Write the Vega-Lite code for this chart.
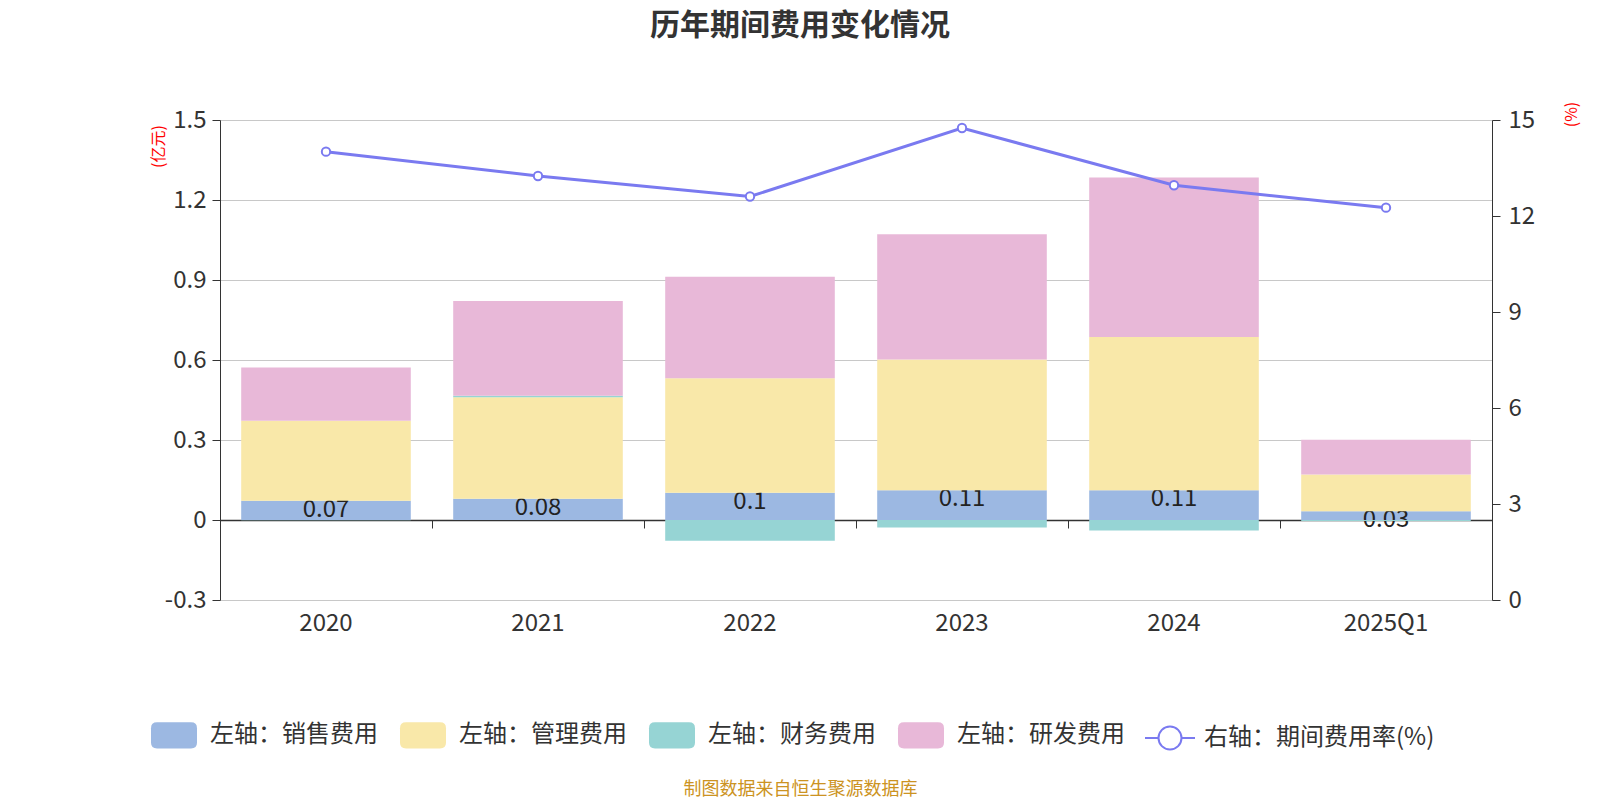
{
  "$schema": "https://vega.github.io/schema/vega-lite/v6.json",
  "autosize": "none",
  "width": 1272,
  "height": 480,
  "padding": {"left": 220, "top": 120, "right": 108, "bottom": 200},
  "background": "#ffffff",
  "config": {
    "font": "Noto Sans CJK SC",
    "view": {"stroke": null},
    "axis": {"labelFontSize": 24, "labelColor": "#333333", "domainColor": "#333333", "tickColor": "#333333", "tickSize": 8, "titleFontWeight": "normal"},
    "legend": {"labelFontSize": 24, "labelColor": "#333333", "labelOffset": 13, "labelLimit": 400, "columnPadding": 22, "direction": "horizontal", "orient": "none", "title": null}
  },
  "title": {
    "text": "历年期间费用变化情况",
    "fontSize": 30,
    "fontWeight": "bold",
    "color": "#333333",
    "anchor": "middle",
    "dx": -56,
    "offset": 60
  },
  "datasets": {
    "costs": [
      {"year": "2020", "type": "左轴：销售费用", "ord": 1, "value": 0.072},
      {"year": "2020", "type": "左轴：管理费用", "ord": 2, "value": 0.30},
      {"year": "2020", "type": "左轴：财务费用", "ord": 3, "value": -0.001},
      {"year": "2020", "type": "左轴：研发费用", "ord": 4, "value": 0.20},
      {"year": "2021", "type": "左轴：销售费用", "ord": 1, "value": 0.08},
      {"year": "2021", "type": "左轴：管理费用", "ord": 2, "value": 0.38},
      {"year": "2021", "type": "左轴：财务费用", "ord": 3, "value": 0.006},
      {"year": "2021", "type": "左轴：研发费用", "ord": 4, "value": 0.355},
      {"year": "2022", "type": "左轴：销售费用", "ord": 1, "value": 0.102},
      {"year": "2022", "type": "左轴：管理费用", "ord": 2, "value": 0.43},
      {"year": "2022", "type": "左轴：财务费用", "ord": 3, "value": -0.078},
      {"year": "2022", "type": "左轴：研发费用", "ord": 4, "value": 0.38},
      {"year": "2023", "type": "左轴：销售费用", "ord": 1, "value": 0.112},
      {"year": "2023", "type": "左轴：管理费用", "ord": 2, "value": 0.49},
      {"year": "2023", "type": "左轴：财务费用", "ord": 3, "value": -0.028},
      {"year": "2023", "type": "左轴：研发费用", "ord": 4, "value": 0.47},
      {"year": "2024", "type": "左轴：销售费用", "ord": 1, "value": 0.112},
      {"year": "2024", "type": "左轴：管理费用", "ord": 2, "value": 0.574},
      {"year": "2024", "type": "左轴：财务费用", "ord": 3, "value": -0.039},
      {"year": "2024", "type": "左轴：研发费用", "ord": 4, "value": 0.598},
      {"year": "2025Q1", "type": "左轴：销售费用", "ord": 1, "value": 0.033},
      {"year": "2025Q1", "type": "左轴：管理费用", "ord": 2, "value": 0.138},
      {"year": "2025Q1", "type": "左轴：财务费用", "ord": 3, "value": -0.004},
      {"year": "2025Q1", "type": "左轴：研发费用", "ord": 4, "value": 0.13}
    ],
    "rate": [
      {"year": "2020", "rate": 14.01},
      {"year": "2021", "rate": 13.25},
      {"year": "2022", "rate": 12.61},
      {"year": "2023", "rate": 14.75},
      {"year": "2024", "rate": 12.96},
      {"year": "2025Q1", "rate": 12.26}
    ]
  },
  "layer": [
    {
      "data": {"name": "costs"},
      "transform": [
        {"stack": "value", "groupby": ["year"], "sort": [{"field": "ord", "order": "ascending"}], "as": ["v0", "v1"]}
      ],
      "encoding": {
        "x": {
          "field": "year",
          "type": "nominal",
          "sort": null,
          "scale": {"paddingInner": 0, "paddingOuter": 0},
          "axis": {
            "domain": false,
            "ticks": false,
            "grid": false,
            "labelAngle": 0,
            "labelPadding": 11,
            "title": "制图数据来自恒生聚源数据库",
            "titleColor": "#cc9322",
            "titleFontSize": 18,
            "titleX": 580,
            "titleY": 189,
            "titleAlign": "center",
            "titleBaseline": "middle"
          }
        },
        "y": {
          "field": "v1",
          "type": "quantitative",
          "scale": {"domain": [-0.3, 1.5], "nice": false, "zero": false},
          "axis": {
            "values": [-0.3, 0, 0.3, 0.6, 0.9, 1.2, 1.5],
            "format": "~g",
            "labelExpr": "replace(datum.label, '−', '-')",
            "grid": true,
            "gridColor": "#c8c8c8",
            "labelPadding": 6,
            "title": "(亿元)",
            "titleColor": "#ff0000",
            "titleFontSize": 16,
            "titleAngle": -90,
            "titleX": -62,
            "titleY": 26,
            "titleAlign": "center",
            "titleBaseline": "middle"
          }
        },
        "color": {
          "field": "type",
          "type": "nominal",
          "scale": {
            "domain": ["左轴：销售费用", "左轴：管理费用", "左轴：财务费用", "左轴：研发费用"],
            "range": ["#9cb8e2", "#f9e8a9", "#96d4d4", "#e8b8d8"]
          },
          "legend": {
            "legendX": -69,
            "legendY": 592,
            "symbolType": "M-0.74,-0.57L0.74,-0.57Q1,-0.57,1,-0.31L1,0.31Q1,0.57,0.74,0.57L-0.74,0.57Q-1,0.57,-1,0.31L-1,-0.31Q-1,-0.57,-0.74,-0.57Z",
            "symbolSize": 2116,
            "symbolStrokeWidth": 0
          }
        }
      },
      "layer": [
        {
          "transform": [{"filter": "datum.type === '左轴：销售费用'"}],
          "mark": {"type": "bar", "width": {"band": 0.8}},
          "encoding": {"y2": {"field": "v0"}}
        },
        {
          "transform": [{"filter": "datum.type === '左轴：销售费用'"}],
          "mark": {"type": "text", "fontSize": 24, "baseline": "middle", "dy": 9},
          "encoding": {
            "text": {"field": "value", "type": "quantitative", "format": ".2~f"},
            "color": {"value": "#222222"}
          }
        },
        {
          "transform": [{"filter": "datum.type !== '左轴：销售费用'"}],
          "mark": {"type": "bar", "width": {"band": 0.8}},
          "encoding": {"y2": {"field": "v0"}}
        }
      ]
    },
    {
      "data": {"name": "rate"},
      "encoding": {
        "x": {
          "field": "year",
          "type": "nominal",
          "sort": null,
          "scale": {"paddingInner": 0, "paddingOuter": 0},
          "axis": {
            "orient": "bottom",
            "offset": -80,
            "labels": false,
            "grid": false,
            "domainWidth": 1.5,
            "bandPosition": 0,
            "title": null
          }
        },
        "y": {
          "field": "rate",
          "type": "quantitative",
          "scale": {"domain": [0, 15], "nice": false},
          "axis": {
            "orient": "right",
            "values": [0, 3, 6, 9, 12, 15],
            "grid": false,
            "labelPadding": 8,
            "title": "(%)",
            "titleColor": "#ff0000",
            "titleFontSize": 16,
            "titleAngle": -90,
            "titleX": 79,
            "titleY": -6,
            "titleAlign": "center",
            "titleBaseline": "middle"
          }
        }
      },
      "layer": [
        {
          "mark": {"type": "line", "strokeWidth": 3},
          "encoding": {
            "stroke": {
              "datum": "右轴：期间费用率(%)",
              "type": "nominal",
              "scale": {"range": ["#7a7af0"]},
              "legend": {
                "legendX": 924,
                "legendY": 592,
                "labelOffset": 8,
                "symbolType": "M-1,0L-0.46,0M0.46,0L1,0M-0.46,0A0.46,0.46,0,1,1,0.46,0A0.46,0.46,0,1,1,-0.46,0Z",
                "symbolSize": 2500,
                "symbolStrokeWidth": 2,
                "symbolFillColor": "#ffffff"
              }
            }
          }
        },
        {
          "mark": {"type": "point", "filled": true, "fill": "#ffffff", "stroke": "#7a7af0", "strokeWidth": 2, "size": 70, "opacity": 1}
        }
      ]
    }
  ],
  "resolve": {"scale": {"y": "independent"}, "axis": {"x": "independent"}}
}
